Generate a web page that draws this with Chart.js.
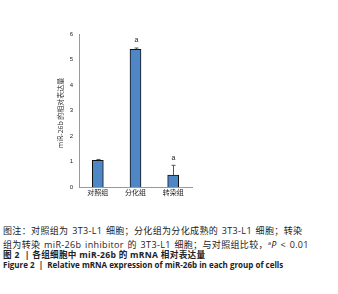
<!DOCTYPE html>
<html><head><meta charset="utf-8">
<script src="https://cdn.jsdelivr.net/npm/chart.js@4/dist/chart.umd.min.js"></script>
<style>
html,body{margin:0;padding:0;background:#fff;width:338px;height:294px;overflow:hidden}
#wrap{position:absolute;left:0;top:0;width:338px;height:202px}
.l{position:absolute;left:3px;white-space:nowrap;font-family:"Open Sans","Noto Sans CJK SC",sans-serif;color:#222;height:10px;line-height:10px}
.n{font-size:9px;letter-spacing:0.35px;word-spacing:1px}
.b3{font-weight:bold;font-size:8.6px;letter-spacing:0.3px}
.b4{font-weight:bold;font-size:8px}
</style></head><body>
<div id="wrap"><canvas id="c" width="338" height="202"></canvas></div>
<div class="l n" style="top:226px">图注：对照组为 3T3-L1 细胞；分化组为分化成熟的 3T3-L1 细胞；转染</div>
<div class="l n" style="top:237.5px">组为转染 miR-26b inhibitor 的 3T3-L1 细胞；与对照组比较，<span style="font-size:5.5px;vertical-align:3px">a</span><i>P</i> &lt; 0.01</div>
<div class="l b3" style="top:250px">图 2 &nbsp;| 各组细胞中 miR-26b 的 mRNA 相对表达量</div>
<div class="l b4" style="top:259.5px">Figure 2 &nbsp;| &nbsp;Relative mRNA expression of miR-26b in each group of cells</div>
<script>
const categories = ["对照组", "分化组", "转染组"];
const values = [1.05, 5.4, 0.47];
const errors = [0.03, 0.05, 0.38];
const marks = ["", "a", "a"];
const yTicks = [0, 1, 2, 3, 4, 5, 6];
const yTitle = "miR-26b 的相对表达量";

const extras = {
  id: 'extras',
  afterDatasetsDraw(chart) {
    const ctx = chart.ctx;
    const meta = chart.getDatasetMeta(0);
    const y = chart.scales.y;
    ctx.save();
    ctx.strokeStyle = '#555';
    ctx.lineWidth = 1;
    meta.data.forEach((bar, i) => {
      const top = y.getPixelForValue(values[i] + errors[i]);
      const x = Math.round(bar.x) + 0.5;
      ctx.beginPath();
      ctx.moveTo(x, bar.y);
      ctx.lineTo(x, top);
      ctx.moveTo(x - 2, top);
      ctx.lineTo(x + 2, top);
      ctx.stroke();
      if (marks[i]) {
        ctx.fillStyle = '#222';
        ctx.font = '7px "Liberation Sans", sans-serif';
        ctx.textAlign = 'center';
        ctx.textBaseline = 'bottom';
        ctx.fillText(marks[i], x, top - 4);
      }
    });
    ctx.translate(60, 113);
    ctx.rotate(-Math.PI / 2);
    ctx.fillStyle = '#333';
    ctx.font = '7px "Noto Sans CJK SC", sans-serif';
    ctx.textAlign = 'center';
    ctx.textBaseline = 'middle';
    ctx.fillText(yTitle, 0, 0);
    ctx.restore();
  }
};

new Chart(document.getElementById('c'), {
  type: 'bar',
  data: {
    labels: categories,
    datasets: [{
      data: values,
      backgroundColor: '#4f86c6',
      borderColor: '#111',
      borderWidth: 1,
      barThickness: 11
    }]
  },
  options: {
    responsive: false,
    animation: false,
    events: [],
    layout: { padding: { top: 34, right: 146, left: 0, bottom: 0 } },
    plugins: { legend: { display: false }, tooltip: { enabled: false } },
    scales: {
      x: {
        grid: { display: false, drawTicks: false },
        border: { color: '#999' },
        ticks: { color: '#222', font: { size: 7, family: '"Noto Sans CJK SC", sans-serif' }, padding: 1 },
        afterFit(s) { s.height = 15; }
      },
      y: {
        min: 0, max: 6,
        grid: { display: false, drawTicks: true, tickLength: 3, tickColor: '#999' },
        border: { color: '#999' },
        afterBuildTicks(s) { s.ticks = yTicks.map(v => ({ value: v })); },
        ticks: { color: '#222', font: { size: 6, family: '"Liberation Sans", sans-serif' }, padding: 3 },
        afterFit(s) { s.width = 79; }
      }
    }
  },
  plugins: [extras]
});
</script>
</body></html>
